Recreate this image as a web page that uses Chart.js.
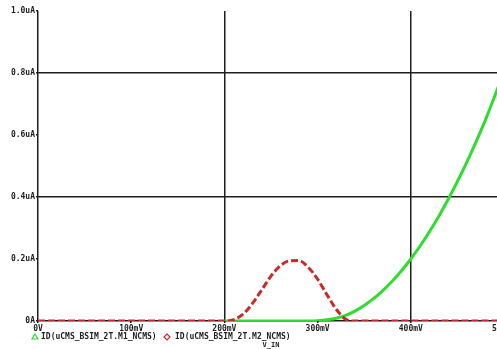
<!DOCTYPE html>
<html>
<head>
<meta charset="utf-8">
<script src="https://cdn.jsdelivr.net/npm/chart.js@4"></script>
<style>
  html, body { margin: 0; padding: 0; background: #fff; overflow: hidden; }
  #wrap { position: absolute; left: 0; top: 0; width: 530px; height: 349px; }
</style>
</head>
<body>
<div id="wrap"><canvas id="chart" width="530" height="349"></canvas></div>
<script>
// sweep of V_IN in mV
const vin = [];
for (let v = 0; v <= 500; v += 10) vin.push(v);

// ID of M1 (uA), only simulated from 200mV on
const idM1 = [
  null, null, null, null, null, null, null, null, null, null,
  null, null, null, null, null, null, null, null, null, null,
  0, 0, 0, 0, 0, 0, 0, 0, 0, 0,
  0.001, 0.004, 0.009, 0.018, 0.032, 0.05, 0.072, 0.098, 0.128, 0.162,
  0.2, 0.242, 0.288, 0.338, 0.392, 0.45, 0.512, 0.578, 0.648, 0.725,
  0.805
];

// ID of M2 (uA)
const idM2 = [
  0, 0, 0, 0, 0, 0, 0, 0, 0, 0,
  0, 0, 0, 0, 0, 0, 0, 0, 0, 0,
  0, 0.004, 0.022, 0.056, 0.1, 0.145, 0.178, 0.194, 0.195, 0.173,
  0.135, 0.085, 0.038, 0.006, 0, 0, 0, 0, 0, 0,
  0, 0, 0, 0, 0, 0, 0, 0, 0, 0,
  0
];

const xTicks = ["0V", "100mV", "200mV", "300mV", "400mV", "500mV"];
const yTicks = ["0A", "0.2uA", "0.4uA", "0.6uA", "0.8uA", "1.0uA"];
const seriesNames = ["ID(uCMS_BSIM_2T.M1_NCMS)", "ID(uCMS_BSIM_2T.M2_NCMS)"];
const xTitle = "V_IN";

const GREEN = "#2fdd2f";
const RED = "#cc2a2a";
const INK = "#1e1e1e";
const FONT = "bold 8px 'DejaVu Sans Mono', monospace";

const pts = (arr) => vin.map((v, i) => ({ x: v, y: arr[i] }));

// legend + axis title below the ticks, PSpice style
const probeLegend = {
  id: "probeLegend",
  afterDraw(chart) {
    const ctx = chart.ctx;
    const area = chart.chartArea;
    ctx.save();
    ctx.font = FONT;
    ctx.textBaseline = "middle";
    const y = 337;

    // green triangle
    ctx.strokeStyle = GREEN;
    ctx.lineWidth = 1.2;
    ctx.beginPath();
    ctx.moveTo(35, y - 3);
    ctx.lineTo(38, y + 2);
    ctx.lineTo(32, y + 2);
    ctx.closePath();
    ctx.stroke();
    ctx.fillStyle = INK;
    ctx.fillText(seriesNames[0], 41, y);

    // red diamond
    ctx.strokeStyle = RED;
    ctx.beginPath();
    ctx.moveTo(167, y - 3);
    ctx.lineTo(170, y);
    ctx.lineTo(167, y + 3);
    ctx.lineTo(164, y);
    ctx.closePath();
    ctx.stroke();
    ctx.fillStyle = INK;
    ctx.fillText(seriesNames[1], 175, y);

    ctx.font = "bold 7px 'DejaVu Sans Mono', monospace";
    ctx.textAlign = "center";
    ctx.fillText(xTitle, (area.left + area.right) / 2, 345);
    ctx.restore();
  }
};

new Chart(document.getElementById("chart").getContext("2d"), {
  type: "line",
  data: {
    datasets: [
      {
        label: seriesNames[1],
        data: pts(idM2),
        borderColor: RED,
        borderWidth: 3,
        borderDash: [7, 3],
        pointRadius: 0,
        cubicInterpolationMode: "monotone",
        order: 0
      },
      {
        label: seriesNames[0],
        data: pts(idM1),
        borderColor: GREEN,
        borderWidth: 3,
        pointRadius: 0,
        cubicInterpolationMode: "monotone",
        spanGaps: false,
        order: 1
      }
    ]
  },
  options: {
    responsive: false,
    animation: false,
    layout: { padding: { top: 11, right: 26, left: 0, bottom: 0 } },
    plugins: { legend: { display: false }, tooltip: { enabled: false } },
    scales: {
      x: {
        type: "linear",
        min: 0,
        max: 500,
        afterFit: (s) => { s.height = 28; },
        border: { display: false },
        grid: {
          color: (c) => (c.index % 2 === 0 ? INK : "transparent"),
          lineWidth: 1.5,
          tickLength: 2,
          tickColor: INK
        },
        ticks: {
          stepSize: 100,
          padding: 1,
          maxRotation: 0,
          color: INK,
          font: { family: "'DejaVu Sans Mono', monospace", size: 8, weight: "bold" },
          callback: (v, i) => xTicks[i]
        }
      },
      y: {
        min: 0,
        max: 1,
        afterFit: (s) => { s.width = 38; },
        border: { display: false },
        grid: {
          color: (c) => (c.index % 2 === 0 ? INK : "transparent"),
          lineWidth: 1.5,
          tickLength: 2,
          tickColor: INK
        },
        ticks: {
          stepSize: 0.2,
          padding: 1,
          color: INK,
          font: { family: "'DejaVu Sans Mono', monospace", size: 8, weight: "bold" },
          callback: (v, i) => yTicks[i]
        }
      }
    }
  },
  plugins: [probeLegend]
});
</script>
</body>
</html>
